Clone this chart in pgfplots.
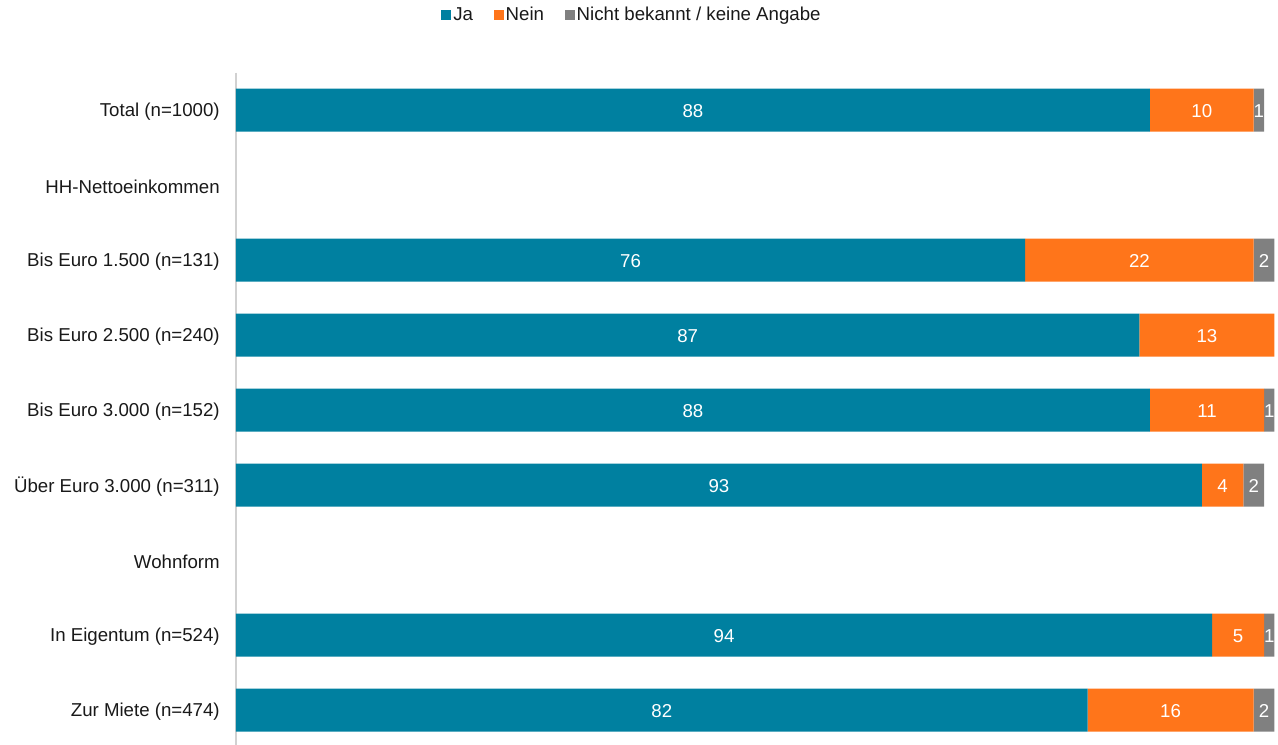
\documentclass[border=0pt]{standalone}
\usepackage{pgfplots}
\pgfplotsset{compat=1.18}
\usepackage{pgfplotstable}
\usepackage{fontspec}
\setmainfont{Liberation Sans}

\definecolor{cja}{RGB}{0,128,160}
\definecolor{cnein}{RGB}{255,117,26}
\definecolor{cnb}{RGB}{128,128,128}

% row: position from top (1 = HH-Nettoeinkommen, 6 = Wohnform have no bars)
\pgfplotstableread{
row ja nein nb
0   88 10   1
2   76 22   2
3   87 13   0
4   88 11   1
5   93 4    2
7   94 5    1
8   82 16   2
}\datatab

\begin{document}
\begin{tikzpicture}
\begin{axis}[
    scale only axis,
    width=781.5pt, height=506.25pt,
    xbar stacked,
    bar width=32.25pt,
    xmin=0, xmax=100.34,
    ymin=-0.5, ymax=8.5,
    y dir=reverse,
    axis x line=none,
    axis y line*=left,
    y axis line style={draw=black!18, line width=0.8pt},
    major tick length=0pt,
    ytick={0,...,8},
    yticklabels={Total (n=1000),HH-Nettoeinkommen,Bis Euro 1.500 (n=131),Bis Euro 2.500 (n=240),Bis Euro 3.000 (n=152),Über Euro 3.000 (n=311),Wohnform,In Eigentum (n=524),Zur Miete (n=474)},
    yticklabel style={font=\fontsize{14}{16}\selectfont, inner sep=0pt, xshift=-12pt, yshift=-1.5pt, text=black!90},
    clip=false,
    point meta=explicit symbolic,
    nodes near coords,
    every node near coord/.append style={anchor=center, yshift=-1pt, text=white, font=\fontsize{14}{16}\selectfont},
    legend style={at={(0.38,1)}, anchor=center, yshift=43pt, draw=none, fill=none,
        legend columns=-1, font=\fontsize{14}{16}\selectfont, text=black!90,
        nodes={inner sep=1.5pt},
        /tikz/every odd column/.append style={column sep=0pt},
        /tikz/every even column/.append style={column sep=14pt}},
    sq/.style={legend image code/.code={\fill[##1] (0pt,-3.75pt) rectangle (7.5pt,3.75pt);}},
]
\addplot[fill=cja, draw=none, sq] table[x=ja, y=row, meta=ja] {\datatab};
\addplot[fill=cnein, draw=none, sq] table[x=nein, y=row, meta=nein] {\datatab};
\addplot[fill=cnb, draw=none, sq] table[x=nb, y=row, meta=nb] {\datatab};
\legend{Ja,Nein,Nicht bekannt / keine Angabe}
\end{axis}
\pgfresetboundingbox
\path[use as bounding box] (-177pt,2.625pt) rectangle (781.5pt,560.625pt);
\end{tikzpicture}
\end{document}
